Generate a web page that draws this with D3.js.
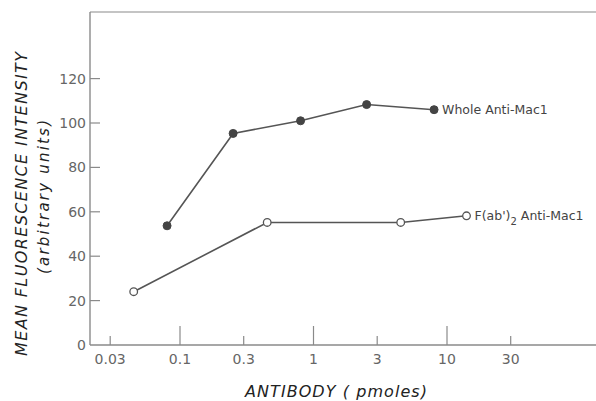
<!DOCTYPE html>
<html>
<head>
<meta charset="utf-8">
<script src="https://cdn.jsdelivr.net/npm/d3@7"></script>
<style>
  html, body { margin: 0; padding: 0; background: #fff; }
  svg { display: block; }
</style>
</head>
<body>
<script>
// ---- data ----
const wholeDose  = [0.08, 0.25, 0.8, 2.5, 8];
const wholeMFI   = [53.7, 95.3, 101, 108.3, 106];
const fabDose    = [0.045, 0.45, 4.5, 14];
const fabMFI     = [24, 55.2, 55.2, 58.2];
const xTickVals  = [0.03, 0.1, 0.3, 1, 3, 10, 30];
const xTickLabels = ["0.03", "0.1", "0.3", "1", "3", "10", "30"];
const xMajor     = [0.1, 1, 10];
const yTickVals  = [0, 20, 40, 60, 80, 100, 120];

const W = 596, H = 401;
const mLeft = 90, mTop = 12, mBottom = 345, mRight = 596;

const svg = d3.select("body").append("svg").attr("width", W).attr("height", H);

const x = d3.scaleLog().domain([0.1, 10]).range([180, 447]);
const y = d3.scaleLinear().domain([0, 150]).range([mBottom, mTop]);

const ink = "#555";
const frame = "#8a8a8a";
const font = "'DejaVu Sans', 'Liberation Sans', sans-serif";

// frame: top and left, plus bottom axis
svg.append("line").attr("x1", mLeft).attr("x2", mRight).attr("y1", mTop).attr("y2", mTop)
  .attr("stroke", frame).attr("stroke-width", 1.2);
svg.append("line").attr("x1", mLeft).attr("x2", mLeft).attr("y1", mTop).attr("y2", mBottom)
  .attr("stroke", frame).attr("stroke-width", 1.4);
svg.append("line").attr("x1", mLeft).attr("x2", mRight).attr("y1", mBottom).attr("y2", mBottom)
  .attr("stroke", frame).attr("stroke-width", 1.4);

// x ticks (inward) and labels
const xg = svg.append("g");
xTickVals.forEach((v, i) => {
  const len = xMajor.includes(v) ? 19 : 9;
  xg.append("line").attr("x1", x(v)).attr("x2", x(v)).attr("y1", mBottom).attr("y2", mBottom - len)
    .attr("stroke", frame).attr("stroke-width", 1.2);
  xg.append("text").attr("x", x(v)).attr("y", 364).attr("text-anchor", "middle")
    .attr("font-family", font).attr("font-size", 14).attr("fill", "#666")
    .text(xTickLabels[i]);
});

// y ticks (inward) and labels
const yg = svg.append("g");
yTickVals.forEach(v => {
  if (v > 0) {
    yg.append("line").attr("x1", mLeft).attr("x2", mLeft + 10).attr("y1", y(v)).attr("y2", y(v))
      .attr("stroke", frame).attr("stroke-width", 1.2);
  }
  yg.append("text").attr("x", 86).attr("y", y(v)).attr("dy", "0.36em")
    .attr("text-anchor", "end").attr("font-family", font).attr("font-size", 14).attr("fill", "#666")
    .text(v);
});

// lines
const line = d3.line().x(d => x(d[0])).y(d => y(d[1]));
const whole = wholeDose.map((d, i) => [d, wholeMFI[i]]);
const fab = fabDose.map((d, i) => [d, fabMFI[i]]);

svg.append("path").datum(whole).attr("d", line).attr("fill", "none")
  .attr("stroke", ink).attr("stroke-width", 1.6);
svg.append("path").datum(fab).attr("d", line).attr("fill", "none")
  .attr("stroke", ink).attr("stroke-width", 1.6);

svg.selectAll("circle.w").data(whole).enter().append("circle")
  .attr("cx", d => x(d[0])).attr("cy", d => y(d[1])).attr("r", 4)
  .attr("fill", "#444").attr("stroke", "#444");
svg.selectAll("circle.f").data(fab).enter().append("circle")
  .attr("cx", d => x(d[0])).attr("cy", d => y(d[1])).attr("r", 3.8)
  .attr("fill", "#fff").attr("stroke", ink).attr("stroke-width", 1.3);

// series labels
const lw = whole[whole.length - 1];
svg.append("text").attr("x", x(lw[0]) + 8).attr("y", y(lw[1])).attr("dy", "0.36em")
  .attr("font-family", font).attr("font-size", 12.5).attr("fill", "#444")
  .text("Whole Anti-Mac1");
const lf = fab[fab.length - 1];
const tf = svg.append("text").attr("x", x(lf[0]) + 8).attr("y", y(lf[1])).attr("dy", "0.36em")
  .attr("font-family", font).attr("font-size", 12.5).attr("fill", "#444");
tf.append("tspan").text("F(ab')");
tf.append("tspan").attr("dy", 5).attr("font-size", 10).text("2");
tf.append("tspan").attr("dy", -5).text(" Anti-Mac1");

// axis titles
svg.append("text").attr("transform", "translate(27,204) rotate(-90)")
  .attr("x", -152).attr("font-family", font).attr("font-style", "italic")
  .attr("font-size", 16).attr("fill", "#222")
  .attr("textLength", 304).attr("lengthAdjust", "spacing")
  .text("MEAN  FLUORESCENCE  INTENSITY");
svg.append("text").attr("transform", "translate(49,197) rotate(-90)")
  .attr("x", -77).attr("font-family", font).attr("font-style", "italic")
  .attr("font-size", 15).attr("fill", "#222")
  .attr("textLength", 154).attr("lengthAdjust", "spacing")
  .text("(arbitrary  units)");
svg.append("text").attr("x", 245).attr("y", 397)
  .attr("font-family", font).attr("font-style", "italic")
  .attr("font-size", 16).attr("fill", "#222")
  .attr("textLength", 182).attr("lengthAdjust", "spacing")
  .text("ANTIBODY  ( pmoles)");
</script>
</body>
</html>
